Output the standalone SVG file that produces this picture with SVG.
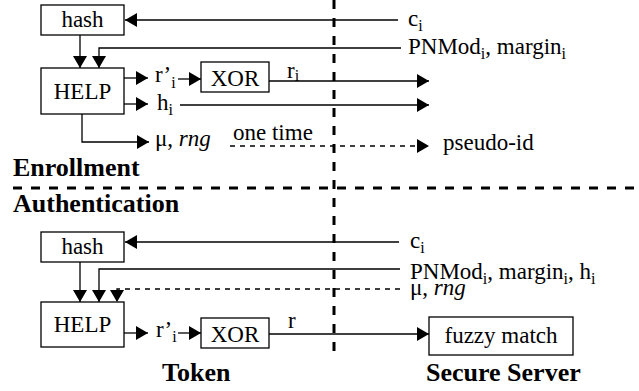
<svg xmlns="http://www.w3.org/2000/svg" width="639" height="391" viewBox="0 0 639 391" font-family="Liberation Serif, Times New Roman, DejaVu Serif, serif">
<defs>
<marker id="ah" viewBox="0 0 12 14" refX="12" refY="7" markerWidth="12" markerHeight="14" markerUnits="userSpaceOnUse" orient="auto"><path d="M0,0 L12,7 L0,14 z" fill="#000"/></marker>
<style>
text{font-size:23px;fill:#000}
.b{font-weight:bold;font-size:26px}
.s{font-size:16px}
.box{fill:#fff;stroke:#000;stroke-width:1.3}
.ln{fill:none;stroke:#000;stroke-width:1.3}
.ar{marker-end:url(#ah)}
.dl{stroke-dasharray:5,5}
.sep{fill:none;stroke:#000;stroke-width:3;stroke-dasharray:9,9}
</style>
</defs>
<g id="separators">
<line class="sep" x1="334" y1="0" x2="334" y2="360"/>
<line class="sep" x1="13" y1="188" x2="639" y2="188"/>
</g>
<g id="connectors">
<polyline class="ln ar" points="398,20 125,20"/>
<polyline class="ln ar" points="401,48 99,48 99,68"/>
<polyline class="ln ar" points="80,35 80,68"/>
<polyline class="ln ar" points="124,78 148,78"/>
<polyline class="ln ar" points="178,79 201,79"/>
<polyline class="ln ar" points="269,81 429,81"/>
<polyline class="ln ar" points="124,104 148,104"/>
<polyline class="ln ar" points="180,105 429,105"/>
<polyline class="ln ar" points="82,114 82,142 149,142"/>
<polyline class="ln ar dl" points="230,146 429,146"/>
<polyline class="ln ar" points="399,242 125,242"/>
<polyline class="ln ar" points="400,269 99,269 99,302"/>
<polyline class="ln ar dl" points="400,289 117,289 117,302"/>
<polyline class="ln ar" points="80,262 80,302"/>
<polyline class="ln ar" points="124,333 148,333"/>
<polyline class="ln ar" points="178,333 201,333"/>
<polyline class="ln ar" points="269,334 429,334"/>
</g>
<g id="enroll-hash"><rect class="box" x="41" y="5" width="83" height="30"/><text x="82.5" y="27" text-anchor="middle">hash</text></g>
<g id="enroll-help"><rect class="box" x="41" y="68" width="83" height="46"/><text x="82.5" y="99" text-anchor="middle">HELP</text></g>
<g id="enroll-xor"><rect class="box" x="201" y="62" width="68" height="30"/><text x="235" y="86" text-anchor="middle">XOR</text></g>
<g id="auth-hash"><rect class="box" x="41" y="232" width="83" height="30"/><text x="82.5" y="254" text-anchor="middle">hash</text></g>
<g id="auth-help"><rect class="box" x="41" y="302" width="83" height="45"/><text x="82.5" y="332" text-anchor="middle">HELP</text></g>
<g id="auth-xor"><rect class="box" x="201" y="318" width="68" height="30"/><text x="235" y="342" text-anchor="middle">XOR</text></g>
<g id="fuzzy-match"><rect class="box" x="429" y="317" width="144" height="38"/><text x="501" y="343" text-anchor="middle">fuzzy match</text></g>
<g id="labels">
<text x="408" y="26">c<tspan class="s" dy="5">i</tspan></text>
<text x="408" y="54">PNMod<tspan class="s" dy="5">i</tspan><tspan dy="-5">, margin</tspan><tspan class="s" dy="5">i</tspan></text>
<text x="155" y="82">r’<tspan class="s" dy="6">i</tspan></text>
<text x="287" y="78">r<tspan class="s" dy="3">i</tspan></text>
<text x="157" y="110">h<tspan class="s" dy="5">i</tspan></text>
<text x="155" y="146">μ, <tspan font-style="italic">rng</tspan></text>
<text x="233" y="140">one time</text>
<text x="443" y="150">pseudo-id</text>
<text class="b" x="13" y="176">Enrollment</text>
<text class="b" x="13" y="212">Authentication</text>
<text x="410" y="248">c<tspan class="s" dy="5">i</tspan></text>
<text x="410" y="279">PNMod<tspan class="s" dy="5">i</tspan><tspan dy="-5">, margin</tspan><tspan class="s" dy="5">i</tspan><tspan dy="-5">, h</tspan><tspan class="s" dy="5">i</tspan></text>
<text x="410" y="295">μ, <tspan font-style="italic">rng</tspan></text>
<text x="156" y="337">r’<tspan class="s" dy="5">i</tspan></text>
<text x="288" y="328">r</text>
<text class="b" x="162" y="381">Token</text>
<text class="b" x="426" y="381">Secure Server</text>
</g>
</svg>
